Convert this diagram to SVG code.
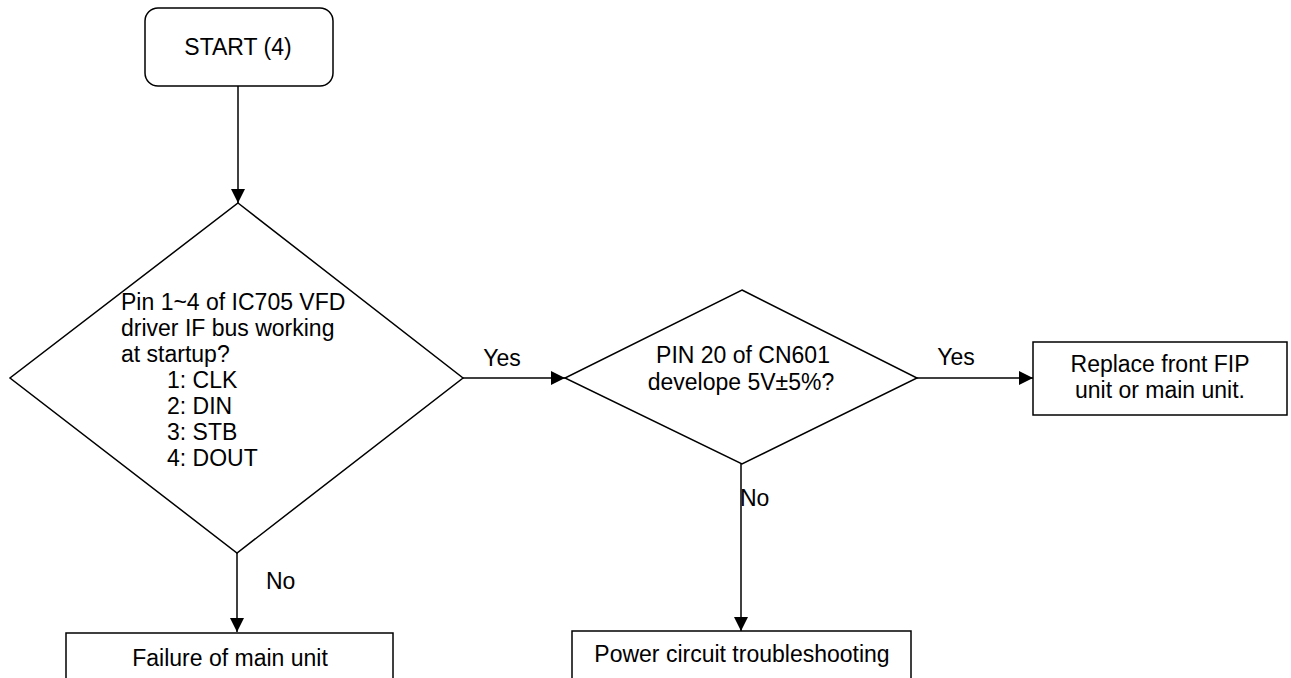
<svg xmlns="http://www.w3.org/2000/svg" width="1291" height="678" viewBox="0 0 1291 678">
<style>
.shape{fill:#fff;stroke:#000;stroke-width:1.5}
.conn{stroke:#000;stroke-width:1.5;fill:none}
text{font-family:"Liberation Sans",Arial,sans-serif;font-size:23px;fill:#000}
.c{text-anchor:middle}
</style>
<defs>
<marker id="arr" markerUnits="userSpaceOnUse" markerWidth="15" markerHeight="15" refX="14" refY="7" orient="auto">
<path d="M0,0 L14,7 L0,14 z" fill="#000"/>
</marker>
</defs>
<rect width="1291" height="678" fill="#fff"/>
<g id="connectors">
<line class="conn" x1="238" y1="86" x2="238" y2="203" marker-end="url(#arr)"/>
<line class="conn" x1="463" y1="378" x2="565" y2="378" marker-end="url(#arr)"/>
<line class="conn" x1="917" y1="378" x2="1033" y2="378" marker-end="url(#arr)"/>
<line class="conn" x1="237" y1="553" x2="237" y2="632" marker-end="url(#arr)"/>
<line class="conn" x1="741" y1="464" x2="741" y2="631" marker-end="url(#arr)"/>
<text x="502" y="366" class="c">Yes</text>
<text x="956" y="365" class="c">Yes</text>
<text x="266" y="589">No</text>
<text x="740" y="506">No</text>
</g>
<g id="start">
<rect class="shape" x="145" y="8" width="188" height="78" rx="13" ry="13"/>
<text x="238" y="55" class="c">START (4)</text>
</g>
<g id="decision1">
<polygon class="shape" points="238,203 463,378 237,553 10,378"/>
<text x="121" y="310">Pin 1~4 of IC705 VFD</text>
<text x="121" y="336">driver IF bus working</text>
<text x="121" y="362">at startup?</text>
<text x="167" y="388">1: CLK</text>
<text x="167" y="414">2: DIN</text>
<text x="167" y="440">3: STB</text>
<text x="167" y="466">4: DOUT</text>
</g>
<g id="decision2">
<polygon class="shape" points="742,290 917,378 742,464 565,378"/>
<text x="743" y="363" class="c">PIN 20 of CN601</text>
<text x="741" y="390" class="c">develope 5V±5%?</text>
</g>
<g id="replace">
<rect class="shape" x="1033" y="342" width="254" height="73"/>
<text x="1160" y="372" class="c">Replace front FIP</text>
<text x="1160" y="398" class="c">unit or main unit.</text>
</g>
<g id="failure">
<rect class="shape" x="66" y="633" width="327" height="80"/>
<text x="230" y="666" class="c">Failure of main unit</text>
</g>
<g id="power">
<rect class="shape" x="572" y="631" width="339" height="80"/>
<text x="742" y="662" class="c">Power circuit troubleshooting</text>
</g>
</svg>
